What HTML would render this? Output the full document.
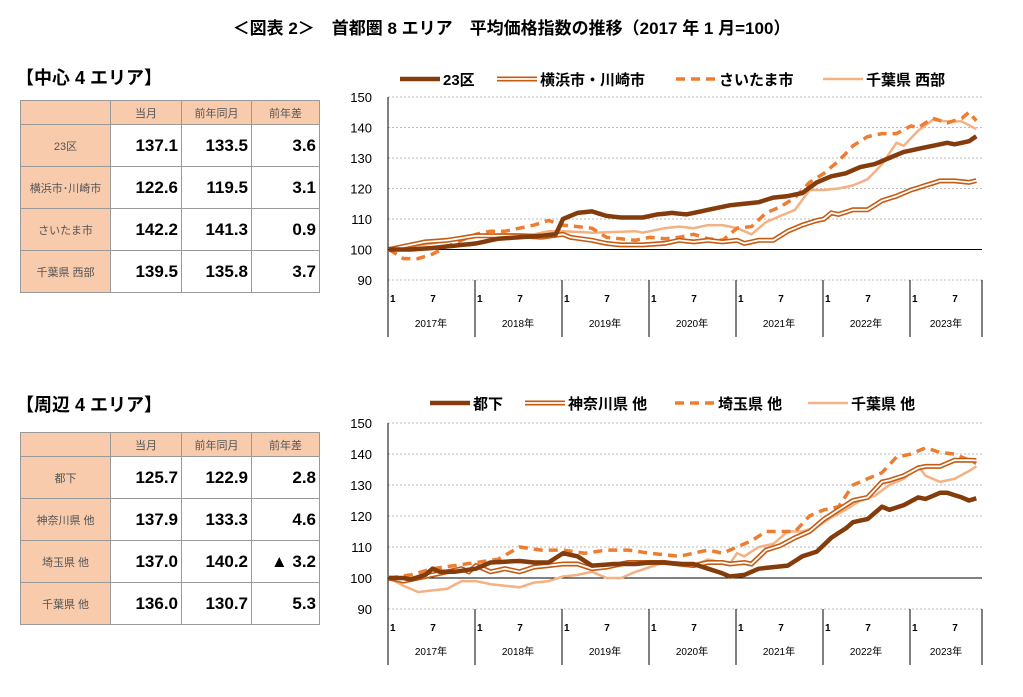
<!DOCTYPE html>
<html><head><meta charset="utf-8">
<style>
body{margin:0;background:#fff;width:1023px;height:697px;overflow:hidden;font-family:"Liberation Sans","Noto Sans CJK JP",sans-serif;}
.t{position:absolute;}
table{position:absolute;border-collapse:collapse;table-layout:fixed;font-family:"Liberation Sans","Noto Sans CJK JP",sans-serif;border:1px solid #444;}
td{border:1px solid #999;height:41px;padding:0 3px;overflow:hidden;white-space:nowrap;}
td.h{background:#F8CBAD;color:#555;font-size:11px;text-align:center;}
tr.hd td{height:23px;background:#F8CBAD;color:#555;font-size:11px;text-align:center;}
td.v{font-size:17px;font-weight:bold;text-align:right;}
</style></head><body>
<div class="t" style="left:0;width:1023px;top:14px;text-align:center;font-size:17px;font-weight:bold;">＜図表 2＞　首都圏 8 エリア　平均価格指数の推移（2017 年 1 月=100）</div>
<div class="t" style="left:16px;top:64px;font-size:18px;font-weight:bold;">【中心 4 エリア】</div>
<div class="t" style="left:16px;top:391px;font-size:18px;font-weight:bold;">【周辺 4 エリア】</div>

<table style="left:20px;top:100px;width:299px;">
<colgroup><col style="width:90px"><col style="width:71px"><col style="width:70px"><col style="width:68px"></colgroup>
<tr class="hd"><td></td><td>当月</td><td>前年同月</td><td>前年差</td></tr>
<tr><td class="h">23区</td><td class="v">137.1</td><td class="v">133.5</td><td class="v">3.6</td></tr>
<tr><td class="h">横浜市･川崎市</td><td class="v">122.6</td><td class="v">119.5</td><td class="v">3.1</td></tr>
<tr><td class="h">さいたま市</td><td class="v">142.2</td><td class="v">141.3</td><td class="v">0.9</td></tr>
<tr><td class="h">千葉県 西部</td><td class="v">139.5</td><td class="v">135.8</td><td class="v">3.7</td></tr>
</table>
<table style="left:20px;top:432px;width:299px;">
<colgroup><col style="width:90px"><col style="width:71px"><col style="width:70px"><col style="width:68px"></colgroup>
<tr class="hd"><td></td><td>当月</td><td>前年同月</td><td>前年差</td></tr>
<tr><td class="h">都下</td><td class="v">125.7</td><td class="v">122.9</td><td class="v">2.8</td></tr>
<tr><td class="h">神奈川県 他</td><td class="v">137.9</td><td class="v">133.3</td><td class="v">4.6</td></tr>
<tr><td class="h">埼玉県 他</td><td class="v">137.0</td><td class="v">140.2</td><td class="v">▲ 3.2</td></tr>
<tr><td class="h">千葉県 他</td><td class="v">136.0</td><td class="v">130.7</td><td class="v">5.3</td></tr>
</table>

<svg id="s" width="1023" height="697" style="position:absolute;left:0;top:0" xmlns="http://www.w3.org/2000/svg"></svg>
<script>
const S=document.getElementById('s');let h='';
const X0=389,DX=7.25;
function chart(y150,y90,ybot,series,leg,ly){
 const k=(y90-y150)/60, Y=v=>y150+(150-v)*k;
 for(let v=90;v<=150;v+=10){const y=Y(v);
  if(v==100) h+=`<line x1="388" x2="982" y1="${y}" y2="${y}" stroke="#000" stroke-width="1"/>`;
  else h+=`<line x1="388" x2="982" y1="${y}" y2="${y}" stroke="#bbb" stroke-dasharray="2,2"/>`;
  h+=`<text x="372" y="${y+5}" font-size="13" text-anchor="end" font-family="Liberation Sans">${v}</text>`;}
 h+=`<line x1="388" x2="388" y1="${y150}" y2="${ybot}" stroke="#000"/>`;
 h+=`<line x1="982" x2="982" y1="${y90}" y2="${ybot}" stroke="#000"/>`;
 for(let i=0;i<7;i++){const bx=388+87*i;
  if(i>0)h+=`<line x1="${bx}" x2="${bx}" y1="${y90}" y2="${ybot}" stroke="#000"/>`;
  h+=`<text x="${bx+2}" y="${y90+22}" font-size="10" font-weight="bold">1</text><text x="${bx+45}" y="${y90+22}" font-size="10" font-weight="bold" text-anchor="middle">7</text>`;
  const cx=i<6?bx+43:(bx+982)/2;
  h+=`<text x="${cx}" y="${ybot-10}" font-size="10" text-anchor="middle" font-family="Liberation Sans,Noto Sans CJK JP">${2017+i}年</text>`;}
 series.forEach(s=>{let pts=[];const d=s.d;
  for(let i=0;i<d.length-2;i+=2){const m0=d[i],v0=d[i+1],m1=d[i+2],v1=d[i+3];
   for(let m=m0;m<m1;m++)pts.push([X0+DX*m,Y(v0+(v1-v0)*(m-m0)/(m1-m0))]);}
  pts.push([X0+DX*d[d.length-2],Y(d[d.length-1])]);
  const p=pts.map(q=>q[0].toFixed(1)+','+q[1].toFixed(1)).join(' ');
  h+=line(p,s.t);});
 leg.forEach(l=>{h+=line(`${l[0]},${ly} ${l[0]+40},${ly}`,l[2]);
  h+=`<text x="${l[0]+43}" y="${ly+6}" font-size="15" font-weight="bold" font-family="Liberation Sans,Noto Sans CJK JP">${l[1]}</text>`;});
}
function line(p,t){
 if(t==0)return `<polyline points="${p}" fill="none" stroke="#843C0C" stroke-width="4.5" stroke-linejoin="round"/>`;
 if(t==1)return `<polyline points="${p}" fill="none" stroke="#C55A11" stroke-width="5"/><polyline points="${p}" fill="none" stroke="#fff" stroke-width="1.8"/>`;
 if(t==2)return `<polyline points="${p}" fill="none" stroke="#ED7D31" stroke-width="3.5" stroke-dasharray="9,6"/>`;
 return `<polyline points="${p}" fill="none" stroke="#F4B183" stroke-width="2.5"/>`;}
chart(97,280,337,[
{t:3,d:[0,100,3,101,6,102,9,103.5,12,104.5,16,105,20,105,22,106,24,106,28,105.5,34,106,35,105.5,38,107,40,107.5,42,107,44,108,46,108,48,107,50,105,52,109,54,111,56,113,58,119.5,60,119.5,62,120,64,121,66,123,68,128,70,135,71,134,73,139,75,142.5,77,142,79,142,81,139.5]},
{t:2,d:[0,100,2,97,4,97,6,98.5,8,101,10,103,12,105,14,106,16,106,18,107,20,108,22,109.5,24,108,26,107.5,28,107,30,104,32,103.5,34,103,36,104,38,103.5,40,104,42,105,44,103.5,46,103,48,107,50,107.5,52,112,54,114,56,117,58,122,60,125,62,129,64,134,66,137,68,138,70,138,72,140.5,73,140,75,143,77,141.5,79,143,80,145,81,142.2]},
{t:1,d:[0,100,3,101.5,5,102.5,8,103,12,104.5,18,104.5,21,104,24,105,25,104,28,103,30,102,32,101.5,35,101.5,38,102,40,103,42,102.5,44,103,46,102.5,48,103,49,102,51,103,53,103,55,106,57,108,59,109.5,60,110,61,112,62,111.5,64,113,66,113,68,116,70,117.5,72,119.5,74,121,76,122.5,78,122.5,80,122,81,122.6]},
{t:0,d:[0,100,3,100,6,100.5,10,101.5,12,102,15,103.5,18,104,21,104.5,23,105,24,110,26,112,28,112.5,30,111,32,110.5,35,110.5,37,111.5,39,112,41,111.5,43,112.5,45,113.5,47,114.5,49,115,51,115.5,53,117,55,117.5,57,118.5,59,122,61,124,63,125,65,127,67,128,69,130,71,132,73,133,75,134,77,135,78,134.5,80,135.5,81,137.1]}
],[[400,'23区',0],[497,'横浜市・川崎市',1],[676,'さいたま市',2],[823,'千葉県 西部',3]],79);
chart(423,609,665,[
{t:3,d:[0,100,2,97.5,4,95.5,6,96,8,96.5,10,99,12,99,14,98,16,97.5,18,97,20,98.5,22,99,24,100.5,26,101,28,102,30,100,32,100,34,102,36,103.5,38,105,40,105,42,104,44,106,46,105,47,104.5,48,108,49,107,51,110,53,111,55,115,57,115,59,116.5,61,119.5,63,122,65,125,67,126.5,69,130,71,132,73,136,74,133,76,131,78,132,80,134.5,81,136]},
{t:2,d:[0,100,3,101,6,103,9,104,12,105,15,106,18,110,21,109,24,109,27,108,30,109,33,109,36,108,38,107.5,40,107,42,108,44,109,46,108,48,110,50,112,52,115,54,115,56,115,58,120,60,122,62,123,64,130,66,132,68,134,70,139,72,140,74,142,76,140.5,78,140,80,138,81,137]},
{t:1,d:[0,100,2,99,4,100,6,101,8,102,10,103,11,102,12,104,14,102,16,103,18,102,20,103.5,22,104,24,104.5,26,104.5,28,103,30,103.5,33,105,36,105,38,105,40,104.5,42,104,44,105,46,105,47,104.5,49,105,50,104.5,52,109,54,110.5,56,113,58,115,60,119,62,122,64,125,66,126,68,131,69,131.5,71,133,73,135.5,74,136,76,136,78,138,80,138,81,137.9]},
{t:0,d:[0,100,2,100,3,99.5,5,101,6,103,7,102,9,102,12,103,14,105,18,105.5,20,105,22,105,24,108,26,107,28,104,31,104.5,34,104.5,36,105,38,105,40,104.5,42,104.5,44,103,46,101.5,47,100.5,49,101,51,103,53,103.5,55,104,57,107,59,108.5,61,113,63,116,64,118,66,119,68,123,69,122,71,123.5,73,126,74,125.5,76,127.5,77,127.5,79,126,80,125,81,125.7]}
],[[430,'都下',0],[525,'神奈川県 他',1],[675,'埼玉県 他',2],[808,'千葉県 他',3]],403);
S.innerHTML=h;
</script>
</body></html>
